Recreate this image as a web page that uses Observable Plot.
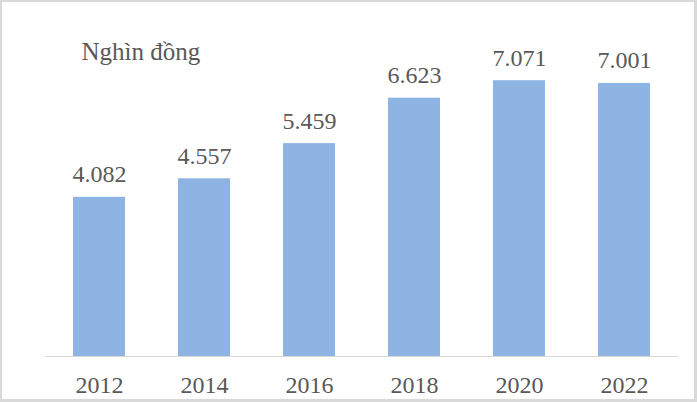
<!DOCTYPE html>
<html>
<head>
<meta charset="utf-8">
<script src="https://cdn.jsdelivr.net/npm/d3@7"></script>
<script src="https://cdn.jsdelivr.net/npm/@observablehq/plot@0.6"></script>
<style>
  html, body { margin: 0; padding: 0; background: #fff; }
  #frame {
    width: 697px; height: 402px; box-sizing: border-box;
    border-style: solid; border-color: #d9d9d9;
    border-width: 2px 3px 3px 2px;
    overflow: hidden;
  }
  #frame svg { display: block; }
  #frame svg, #frame svg text { font-family: "Liberation Serif", "Times New Roman", serif !important; }
</style>
</head>
<body>
<div id="frame"></div>
<script>
const years = ["2012", "2014", "2016", "2018", "2020", "2022"];
const values = [4082, 4557, 5459, 6623, 7071, 7001];
const unitLabel = "Nghìn đồng";

const data = years.map((y, i) => ({year: y, value: values[i]}));
const viFormat = d3.formatLocale({decimal: ",", thousands: ".", grouping: [3], currency: ["", ""]}).format(",");

const textColor = "#595959";

const chart = Plot.plot({
  width: 692,
  height: 397,
  marginLeft: 43,
  marginRight: 16,
  marginTop: 42,
  marginBottom: 43,
  style: {background: "#fff"},
  x: {domain: years, paddingInner: 0.505, paddingOuter: 0.2525, axis: null},
  y: {domain: [0, 8000], axis: null},
  marks: [
    Plot.barY(data, {x: "year", y: "value", fill: "#8DB4E2"}),
    Plot.ruleY([0], {stroke: "#d9d9d9", strokeWidth: 1}),
    Plot.axisX({tickSize: 0, tickPadding: 19, fontSize: 24, fill: textColor, color: textColor, label: null}),
    Plot.text(data, {x: "year", y: "value", text: d => viFormat(d.value), lineAnchor: "bottom", dy: -15, fontSize: 24, fill: textColor}),
    Plot.text([unitLabel], {frameAnchor: "top-left", textAnchor: "start", lineAnchor: "bottom", dx: 36, dy: 15, fontSize: 25, fill: textColor})
  ]
});
document.getElementById("frame").appendChild(chart);
</script>
</body>
</html>
